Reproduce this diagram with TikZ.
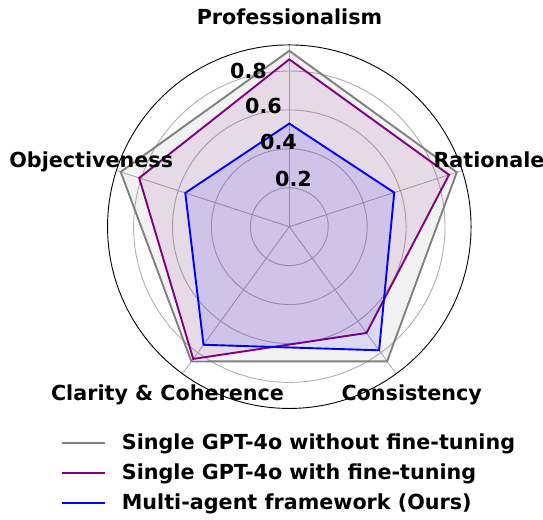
\documentclass[tikz,border=0pt]{standalone}
\usepackage{fontspec}
\setmainfont{DejaVu Sans}
\definecolor{sgray}{RGB}{128,128,128}
\definecolor{spurple}{RGB}{128,0,128}
\definecolor{sblue}{RGB}{0,0,255}
\definecolor{gridgray}{RGB}{176,176,176}
\begin{document}
\begin{tikzpicture}[x=1pt,y=1pt,
  lbl/.style={font=\fontsize{20.7}{24}\selectfont\bfseries, inner sep=0pt},
  gridc/.style={draw=gridgray, line width=0.9pt},
  serie/.style={line width=1.9pt, line join=miter},
]
\useasboundingbox (0,0) rectangle (543,519);
\coordinate (C) at (289.3,292.3);
\def\U{194.6}
\begin{scope}[shift={(C)}]
  \foreach \r in {0.2,0.4,0.6,0.8}{
    \draw[gridc] (0,0) circle ({\r*\U});
  }
  \foreach \a in {90,18,-54,-126,162}{
    \draw[gridc] (0,0) -- (\a:{0.934*\U});
  }
  \coordinate (g1) at (90:{0.904*\U});
  \coordinate (g2) at (18:{0.905*\U});
  \coordinate (g3) at (-54:{0.855*\U});
  \coordinate (g4) at (-126:{0.856*\U});
  \coordinate (g5) at (162:{0.911*\U});
  \coordinate (p1) at (90:{0.86*\U});
  \coordinate (p2) at (18:{0.863*\U});
  \coordinate (p3) at (-54:{0.675*\U});
  \coordinate (p4) at (-126:{0.84*\U});
  \coordinate (p5) at (162:{0.811*\U});
  \coordinate (b1) at (90:{0.53*\U});
  \coordinate (b2) at (18:{0.567*\U});
  \coordinate (b3) at (-54:{0.785*\U});
  \coordinate (b4) at (-126:{0.75*\U});
  \coordinate (b5) at (162:{0.562*\U});

  \draw[serie, draw=sgray] (g1)--(g2)--(g3)--(g4)--(g5)--cycle;
  \fill[sgray, opacity=0.1] (g1)--(g2)--(g3)--(g4)--(g5)--cycle;
  \draw[serie, draw=spurple] (p1)--(p2)--(p3)--(p4)--(p5)--cycle;
  \fill[spurple, opacity=0.1] (p1)--(p2)--(p3)--(p4)--(p5)--cycle;
  \draw[serie, draw=sblue] (b1)--(b2)--(b3)--(b4)--(b5)--cycle;
  \fill[sblue, opacity=0.1] (b1)--(b2)--(b3)--(b4)--(b5)--cycle;

  \draw[black, line width=0.9pt] (0,0) circle ({0.934*\U});
\end{scope}

\node[lbl, anchor=base west] (t8) at (230,{519-78.3}) {0.8};
\node[lbl, anchor=base west] (t6) at (245,{519-114}) {0.6};
\node[lbl, anchor=base west] (t4) at (260,{519-150}) {0.4};
\node[lbl, anchor=base west] (t2) at (275,{519-186.7}) {0.2};

\node[lbl, anchor=base] (lp) at (289.5,{519-25}) {Professionalism};
\node[lbl, anchor=base west] (lr) at (433.3,{519-167.7}) {Rationale};
\node[lbl, anchor=base east] (lo) at (173.3,{519-167.7}) {Objectiveness};
\node[lbl, anchor=base] (lc) at (167.5,{519-400.7}) {Clarity \& Coherence};
\node[lbl, anchor=base] (ls) at (411.7,{519-400.7}) {Consistency};

\coordinate (lg1a) at (61.7,{519-442.7});
\coordinate (lg1b) at (105,{519-442.7});
\coordinate (lg2a) at (61.7,{519-472.7});
\coordinate (lg2b) at (105,{519-472.7});
\coordinate (lg3a) at (61.7,{519-503.3});
\coordinate (lg3b) at (105,{519-503.3});
\draw[line width=1.9pt, sgray] (lg1a) -- (lg1b);
\draw[line width=1.9pt, spurple] (lg2a) -- (lg2b);
\draw[line width=1.9pt, sblue] (lg3a) -- (lg3b);
\node[lbl, anchor=base west] (e1) at (121.7,{519-449.3}) {Single GPT-4o without fine-tuning};
\node[lbl, anchor=base west] (e2) at (121.7,{519-479.3}) {Single GPT-4o with fine-tuning};
\node[lbl, anchor=base west] (e3) at (121.7,{519-509.3}) {Multi-agent framework (Ours)};
\end{tikzpicture}
\end{document}
